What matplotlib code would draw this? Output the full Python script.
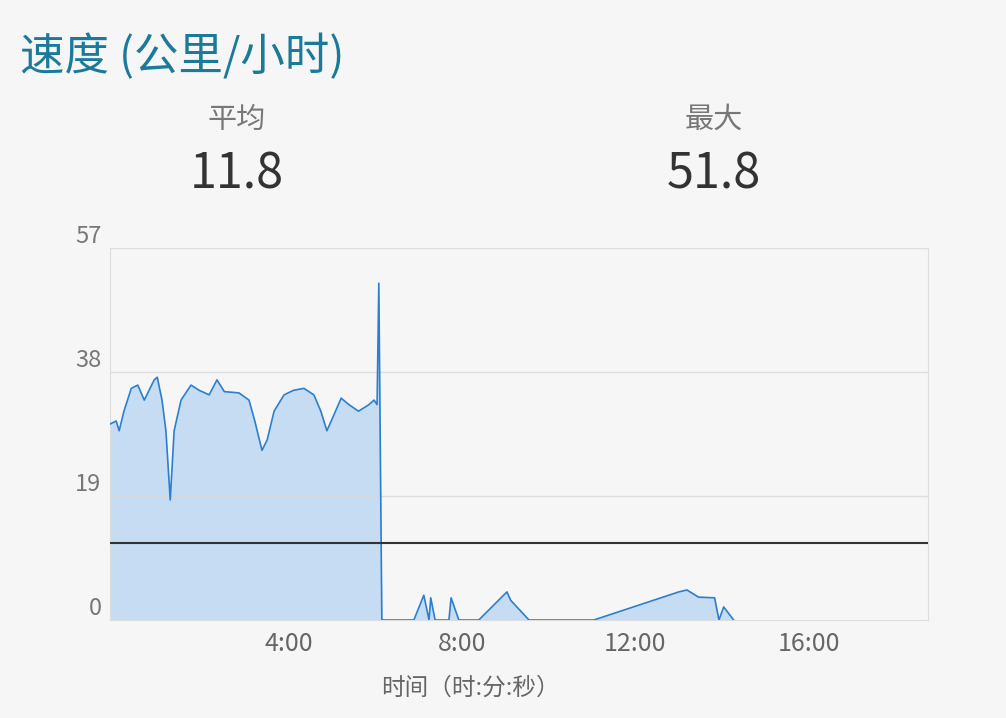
import matplotlib.pyplot as plt
import numpy as np

plt.rcParams['font.family'] = ['Noto Sans CJK SC', 'DejaVu Sans']

# time in minutes, speed in km/h
minutes = [-0.15, 0, 0.07, 0.18, 0.35, 0.5, 0.65, 0.88, 0.95, 1.06, 1.15, 1.25, 1.34, 1.5,
           1.73, 1.92, 2.15, 2.33, 2.5, 2.84, 3.07, 3.2, 3.37, 3.49, 3.65, 3.88, 4.1, 4.34,
           4.57, 4.73, 4.87, 5.03, 5.2, 5.38, 5.6, 5.84, 5.96, 6.03, 6.07, 6.14,
           6.88, 7.11, 7.23, 7.27, 7.37, 7.69, 7.74, 7.92, 8.38, 9.03, 9.12, 9.54,
           11.04, 13.0, 13.19, 13.46, 13.83, 13.93, 14.04, 14.27]
speed = [30, 30.5, 29, 32, 35.5, 36, 33.7, 36.8, 37.2, 33.7, 29, 18.4, 29, 33.7,
         36, 35.2, 34.5, 36.8, 35, 34.8, 33.7, 30.6, 26, 27.6, 32, 34.5, 35.2, 35.5,
         34.5, 32, 29, 31.4, 34, 33, 32, 33, 33.7, 33, 51.6, 0,
         0, 3.8, 0, 3.4, 0, 0, 3.4, 0, 0, 4.3, 3, 0,
         0, 4.3, 4.6, 3.5, 3.4, 0, 2, 0]
avg_speed = 11.8
max_speed = 51.8
y_ticks = [0, 19, 38, 57]
x_ticks = [4, 8, 12, 16]
x_labels = ['4:00', '8:00', '12:00', '16:00']

bg = '#f6f6f6'
fig = plt.figure(figsize=(10.06, 7.18), dpi=100, facecolor=bg)
ax = fig.add_axes([0.109, 0.1365, 0.813, 0.518], facecolor=bg)

ax.fill_between(minutes, speed, 0, color='#c5dcf2', lw=0)
ax.plot(minutes, speed, color='#2a7fd0', lw=1.2, zorder=4)
ax.axhline(avg_speed, color='#333333', lw=1.5, zorder=5)

ax.set_xlim(-0.15, 18.75)
ax.set_ylim(0, 57)
for t in y_ticks[1:]:
    ax.axhline(t, color='#d8d8d8', lw=1, zorder=3, alpha=0.8)
for t in y_ticks:
    ax.text(-0.01, t, str(t), transform=ax.get_yaxis_transform(), ha='right',
            va='bottom', fontsize=17, color='#777777')
ax.set_yticks([])
ax.set_xticks(x_ticks)
ax.set_xticklabels(x_labels, fontsize=18, color='#666666')
ax.tick_params(axis='x', length=0, pad=8)
for s in ['left', 'right', 'top', 'bottom']:
    ax.spines[s].set_color('#dddddd')
ax.spines['top'].set_visible(False)
fig.text(0.468, 0.042, '时间（时:分:秒）', fontsize=17, color='#666666', ha='center', va='center')

fig.text(0.02, 0.92, '速度 (公里/小时)', fontsize=32, color='#1b7a9a', va='center')
fig.text(0.235, 0.833, '平均', fontsize=21, color='#777777', ha='center', va='center')
fig.text(0.235, 0.757, f'{avg_speed}', fontsize=35, color='#333333', ha='center', va='center')
fig.text(0.71, 0.833, '最大', fontsize=21, color='#777777', ha='center', va='center')
fig.text(0.71, 0.757, f'{max_speed}', fontsize=35, color='#333333', ha='center', va='center')

fig.savefig('out.png', facecolor=bg)
